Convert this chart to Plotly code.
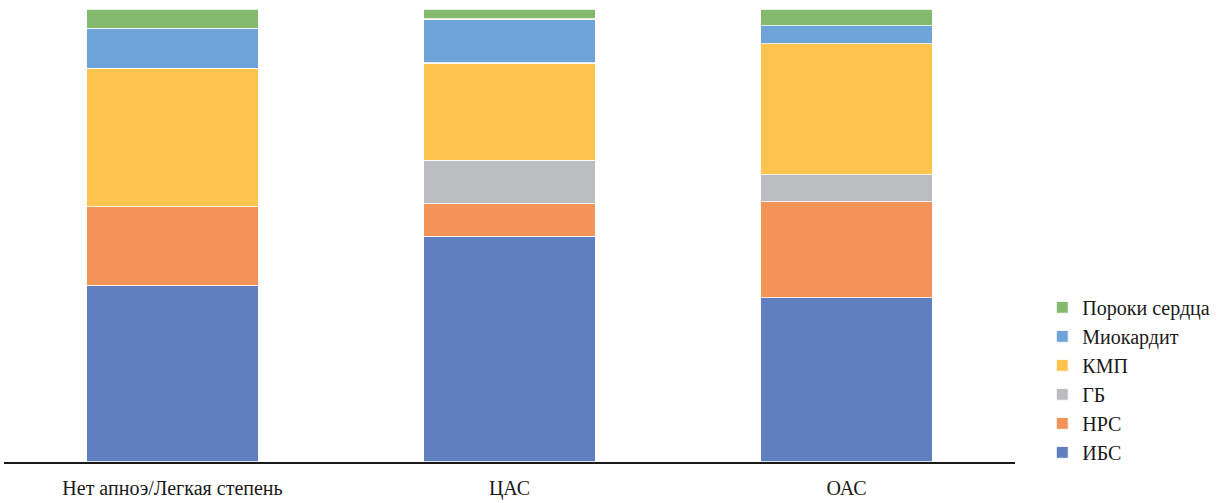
import plotly.graph_objects as go

categories = ["Нет апноэ/Легкая степень", "ЦАС", "ОАС"]
series_names = ["ИБС", "НРС", "ГБ", "КМП", "Миокардит", "Пороки сердца"]
ibs = [38.9, 49.8, 36.3]
nrs = [17.5, 7.2, 21.2]
gb = [0.0, 9.6, 5.9]
kmp = [30.5, 21.5, 28.9]
miokardit = [8.8, 9.7, 4.0]
poroki = [4.2, 2.2, 3.7]
colors = ["#5F7FC0", "#F29357", "#BBBCC0", "#FEC44E", "#6EA4D8", "#84BA6E"]

values = [ibs, nrs, gb, kmp, miokardit, poroki]

fig = go.Figure()
for name, vals, col in zip(series_names, values, colors):
    fig.add_trace(go.Bar(
        x=categories, y=vals, name=name, legendgroup=name,
        marker=dict(color=col, line=dict(color="rgba(255,255,255,0.8)", width=1.2)),
        hoverinfo="skip",
    ))

FONT = "'Liberation Serif', 'Times New Roman', 'DejaVu Serif', serif"
fig.update_layout(
    template="none",
    barmode="stack",
    bargap=0.49,
    width=1232, height=503,
    margin=dict(l=4, r=217, t=9, b=41, autoexpand=False),
    paper_bgcolor="white", plot_bgcolor="white",
    font=dict(family=FONT, size=20, color="#1a1a1a"),
    showlegend=True,
    legend=dict(
        traceorder="reversed", x=1.027, xanchor="left", y=-0.022, yanchor="bottom",
        font=dict(family=FONT, size=20, color="#1a1a1a"),
        tracegroupgap=0, itemwidth=30, bgcolor="rgba(0,0,0,0)",
    ),
    xaxis=dict(
        showline=True, linecolor="#1a1a1a", linewidth=2, automargin=False,
        ticks="", showgrid=False, zeroline=False, ticklabelstandoff=7,
        tickfont=dict(family=FONT, size=20, color="#1a1a1a"),
    ),
    yaxis=dict(range=[0, 100], visible=False, showgrid=False, zeroline=False, automargin=False),
)

fig.write_html("out.html")
